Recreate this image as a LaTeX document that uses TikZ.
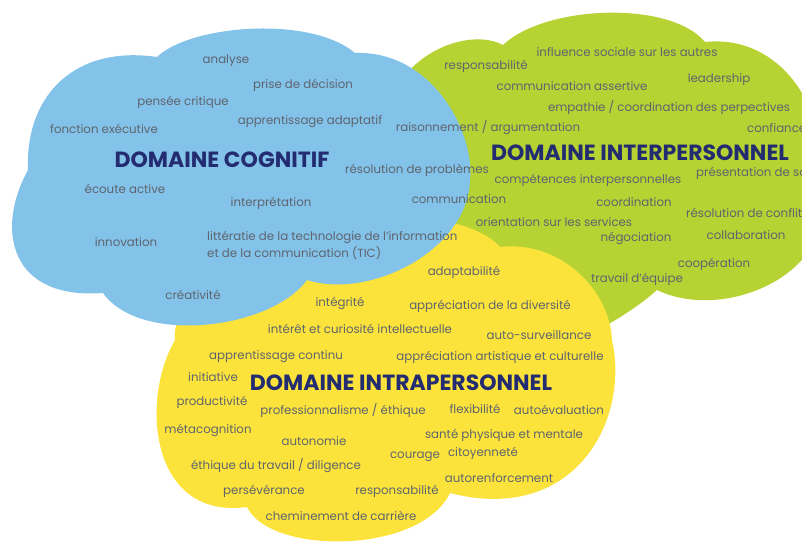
\documentclass[tikz,border=0pt]{standalone}
\usepackage{fontspec}
\setmainfont{Poppins}
\definecolor{cblue}{HTML}{84C3E9}
\definecolor{cgreen}{HTML}{B6D333}
\definecolor{cyellow}{HTML}{FCE33B}
\definecolor{txtgray}{HTML}{5E646E}
\definecolor{navy}{HTML}{232C70}
\begin{document}
\begin{tikzpicture}[x=1pt,y=-1pt,
  lbl/.style={inner sep=0pt, text=txtgray, font=\fontsize{11.8}{17}\selectfont},
  head/.style={inner sep=0pt, text=navy, font=\fontsize{22}{26}\selectfont\bfseries}]
\useasboundingbox (0,0) rectangle (802,546);
\clip (0,0) rectangle (802,546);
% green cloud (bottom layer)
\fill[cgreen] (395,90) .. controls (420,45) and (475,30) .. (503,45)
  .. controls (545,5) and (670,0) .. (705,42)
  .. controls (770,35) and (815,90) .. (820,150) -- (820,220)
  .. controls (815,280) and (720,320) .. (657,290)
  .. controls (635,310) and (600,330) .. (570,345)
  -- (450,300) -- (395,200) -- cycle;
% yellow cloud
\fill[cyellow] (175,340) .. controls (170,300) and (230,270) .. (320,265)
  .. controls (380,262) and (420,225) .. (445,222)
  .. controls (465,224) and (490,235) .. (500,247)
  .. controls (560,240) and (610,290) .. (612,340)
  .. controls (630,420) and (575,525) .. (450,493)
  .. controls (420,555) and (270,555) .. (247,507)
  .. controls (150,520) and (140,400) .. (175,340) -- cycle;
% blue cloud (top layer)
\fill[cblue] (157,57) .. controls (190,25) and (310,15) .. (355,53)
  .. controls (430,50) and (475,130) .. (470,180)
  .. controls (468,250) and (370,300) .. (307,280)
  .. controls (270,330) and (140,345) .. (103,293)
  .. controls (10,300) and (-5,230) .. (28,170)
  .. controls (25,95) and (75,45) .. (157,57) -- cycle;
% cognitive
\node[lbl] (c1) at (226,61) {analyse};
\node[lbl] (c2) at (303,85) {prise de décision};
\node[lbl] (c3) at (183,102) {pensée critique};
\node[lbl] (c4) at (104,129) {fonction exécutive};
\node[lbl] (c5) at (310,122) {apprentissage adaptatif};
\node[head] (hc) at (222,160) {DOMAINE COGNITIF};
\node[lbl] (c6) at (417,170) {résolution de problèmes};
\node[lbl] (c7) at (125,189) {écoute active};
\node[lbl] (c8) at (271,203) {interprétation};
\node[lbl] (c9) at (459,199) {communication};
\node[lbl] (c10) at (126,242) {innovation};
\node[lbl, align=left, anchor=west] (c11) at (207,245) {littératie de la technologie de l’information\\et de la communication (TIC)};
\node[lbl] (c12) at (193,295) {créativité};
% interpersonal
\node[lbl] (i1) at (627,52) {influence sociale sur les autres};
\node[lbl] (i2) at (486,66) {responsabilité};
\node[lbl] (i3) at (719,80) {leadership};
\node[lbl] (i4) at (572,86) {communication assertive};
\node[lbl] (i5) at (669,107) {empathie / coordination des perpectives};
\node[lbl] (i6) at (488,128) {raisonnement / argumentation};
\node[lbl, anchor=west] (i7) at (747,128) {confiance};
\node[head] (hi) at (640,153) {DOMAINE INTERPERSONNEL};
\node[lbl] (i8) at (588,180) {compétences interpersonnelles};
\node[lbl, anchor=west] (i9) at (696,173) {présentation de soi};
\node[lbl] (i10) at (634,202) {coordination};
\node[lbl, anchor=west] (i11) at (686,213) {résolution de conflits};
\node[lbl] (i12) at (554,222) {orientation sur les services};
\node[lbl] (i13) at (636,238) {négociation};
\node[lbl] (i14) at (746,235) {collaboration};
\node[lbl] (i15) at (714,264) {coopération};
\node[lbl] (i16) at (637,279) {travail d’équipe};
% intrapersonal
\node[lbl] (a1) at (464,272) {adaptabilité};
\node[lbl] (a2) at (340,303) {intégrité};
\node[lbl] (a3) at (490,306) {appréciation de la diversité};
\node[lbl] (a4) at (360,329) {intérêt et curiosité intellectuelle};
\node[lbl] (a5) at (539,335) {auto-surveillance};
\node[lbl] (a6) at (276,357) {apprentissage continu};
\node[lbl] (a7) at (500,357) {appréciation artistique et culturelle};
\node[lbl] (a8) at (213,377) {initiative};
\node[head] (ha) at (401,383) {DOMAINE INTRAPERSONNEL};
\node[lbl] (a9) at (212,402) {productivité};
\node[lbl] (a10) at (343,410) {professionnalisme / éthique};
\node[lbl] (a11) at (475,409) {flexibilité};
\node[lbl] (a12) at (559,410) {autoévaluation};
\node[lbl] (a13) at (208,430) {métacognition};
\node[lbl] (a14) at (504,435) {santé physique et mentale};
\node[lbl] (a15) at (314,441) {autonomie};
\node[lbl] (a16) at (415,457) {courage};
\node[lbl] (a17) at (483,453) {citoyenneté};
\node[lbl] (a18) at (276,466) {éthique du travail / diligence};
\node[lbl] (a19) at (499,478) {autorenforcement};
\node[lbl] (a20) at (264,491) {persévérance};
\node[lbl] (a21) at (397,491) {responsabilité};
\node[lbl] (a22) at (341,516) {cheminement de carrière};
\end{tikzpicture}
\end{document}
